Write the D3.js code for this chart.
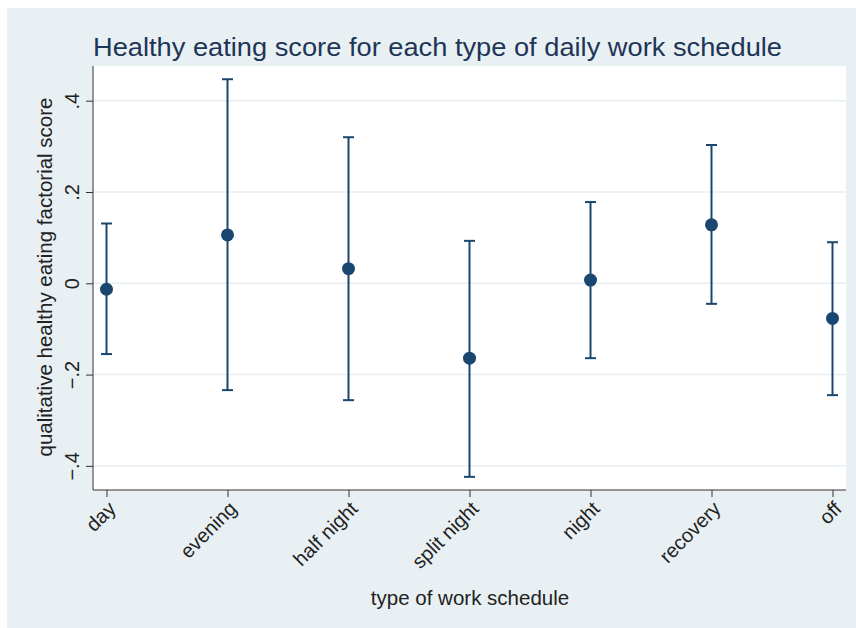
<!DOCTYPE html>
<meta charset="utf-8">
<head>
  <title>Healthy eating score</title>
</head>
<style>
body { margin: 0; background: white; }
text { font-family: "Liberation Sans", Arial, sans-serif; }
</style>
<body>
  <svg width="856" height="628"></svg>
  <script src="https://cdnjs.cloudflare.com/ajax/libs/d3/7.8.5/d3.min.js"></script>
  <script>

var schedules = ["day", "evening", "half night", "split night", "night", "recovery", "off"];
var means = [-0.013, 0.106, 0.032, -0.164, 0.007, 0.128, -0.077];
var upper = [0.131, 0.447, 0.320, 0.093, 0.178, 0.303, 0.090];
var lower = [-0.155, -0.234, -0.256, -0.424, -0.164, -0.045, -0.245];
var yTicks = [-0.4, -0.2, 0, 0.2, 0.4];

var navy = "#1a476f";
var svg = d3.select("svg");

// outer region
svg.append("rect")
  .attr("x", 7).attr("y", 8)
  .attr("width", 849).attr("height", 620)
  .attr("fill", "#e8f0f3");

var pLeft = 93, pRight = 846, pTop = 66, pBottom = 490;

svg.append("rect")
  .attr("x", pLeft).attr("y", pTop)
  .attr("width", pRight - pLeft).attr("height", pBottom - pTop)
  .attr("fill", "white");

var x = d3.scalePoint()
  .domain(schedules)
  .range([106.5, 832.5]);

var y = d3.scaleLinear()
  .domain([-0.2, 0.2])
  .range([374.6, 192]);

// grid
svg.append("g")
  .selectAll("line")
  .data(yTicks)
  .enter()
  .append("line")
  .attr("x1", pLeft).attr("x2", pRight)
  .attr("y1", d => y(d)).attr("y2", d => y(d))
  .attr("stroke", "#e6eef2")
  .attr("stroke-width", 1.5);

// axes
var yAxis = svg.append("g")
  .attr("transform", "translate(" + pLeft + ",0)")
  .call(d3.axisLeft(y).tickValues(yTicks).tickSize(7)
    .tickFormat(d => d === 0 ? "0" : d3.format(".1f")(d).replace("0.", ".")));
yAxis.select(".domain").attr("d", "M0," + pTop + "V" + pBottom).attr("stroke", "#333");
yAxis.selectAll(".tick line").attr("stroke", "#333");
yAxis.selectAll(".tick text")
  .attr("font-size", 20)
  .attr("fill", "#222")
  .attr("x", 0).attr("y", 0).attr("dy", 0)
  .attr("text-anchor", "middle")
  .attr("transform", "translate(-14,0) rotate(-90)");

var xAxis = svg.append("g")
  .attr("transform", "translate(0," + pBottom + ")")
  .call(d3.axisBottom(x).tickSize(7).tickSizeOuter(0));
xAxis.select(".domain").attr("d", "M" + pLeft + ",0H" + pRight).attr("stroke", "#333");
xAxis.selectAll(".tick line").attr("stroke", "#333");
xAxis.selectAll(".tick text")
  .attr("font-size", 20)
  .attr("fill", "#222")
  .attr("text-anchor", "end")
  .attr("x", 0).attr("y", 0).attr("dy", "0.35em")
  .attr("transform", "translate(5,15) rotate(-45)");

// error bars
var bars = svg.append("g")
  .selectAll("g")
  .data(schedules)
  .enter()
  .append("g");

bars.append("line")
  .attr("x1", d => x(d)).attr("x2", d => x(d))
  .attr("y1", (d, i) => y(upper[i])).attr("y2", (d, i) => y(lower[i]))
  .attr("stroke", navy).attr("stroke-width", 2);

bars.append("line")
  .attr("x1", d => x(d) - 5.5).attr("x2", d => x(d) + 5.5)
  .attr("y1", (d, i) => y(upper[i])).attr("y2", (d, i) => y(upper[i]))
  .attr("stroke", navy).attr("stroke-width", 2);

bars.append("line")
  .attr("x1", d => x(d) - 5.5).attr("x2", d => x(d) + 5.5)
  .attr("y1", (d, i) => y(lower[i])).attr("y2", (d, i) => y(lower[i]))
  .attr("stroke", navy).attr("stroke-width", 2);

bars.append("circle")
  .attr("cx", d => x(d))
  .attr("cy", (d, i) => y(means[i]))
  .attr("r", 6.5)
  .attr("fill", navy);

// titles
svg.append("text")
  .attr("x", 93).attr("y", 56)
  .attr("font-size", 26)
  .attr("fill", "#1e3556")
  .attr("textLength", 689)
  .attr("lengthAdjust", "spacingAndGlyphs")
  .text("Healthy eating score for each type of daily work schedule");

svg.append("text")
  .attr("transform", "translate(52," + ((pTop + pBottom) / 2 - 1) + ") rotate(-90)")
  .attr("text-anchor", "middle")
  .attr("font-size", 20.5)
  .attr("fill", "#222")
  .text("qualitative healthy eating factorial score");

svg.append("text")
  .attr("x", 470).attr("y", 605)
  .attr("text-anchor", "middle")
  .attr("font-size", 20.5)
  .attr("fill", "#222")
  .text("type of work schedule");

  </script>
</body>
</html>
